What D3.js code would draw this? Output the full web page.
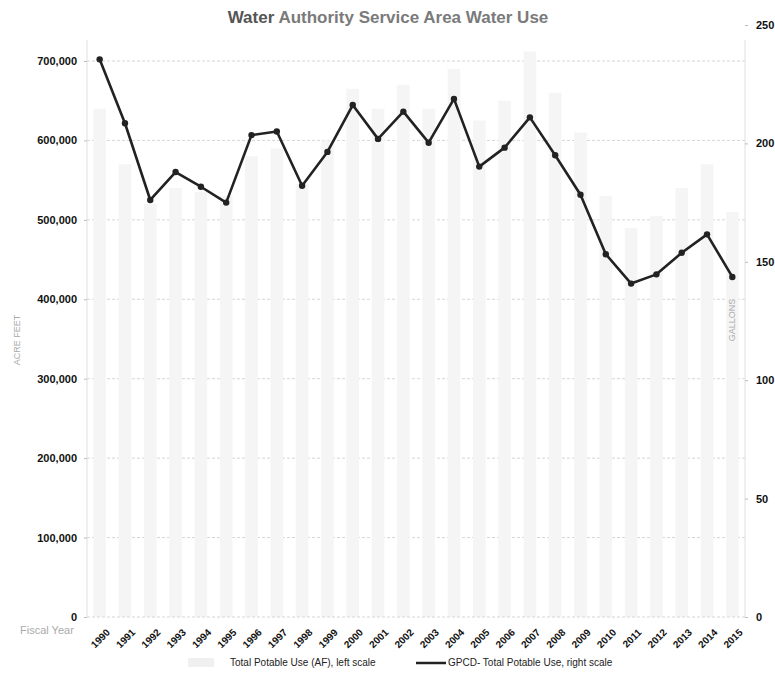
<!DOCTYPE html>
<html>
<head>
<meta charset="utf-8">
<script src="https://cdn.jsdelivr.net/npm/d3@7"></script>
<style>
body{margin:0;background:#fff;}
svg text{font-family:"Liberation Sans Narrow","Liberation Sans",sans-serif;}
</style>
</head>
<body>
<div id="chart"></div>
<script>
var years=["1990","1991","1992","1993","1994","1995","1996","1997","1998","1999","2000","2001","2002","2003","2004","2005","2006","2007","2008","2009","2010","2011","2012","2013","2014","2015"];
// total potable use, acre feet (bars, left scale)
var totalAF=[640000,570000,520000,540000,535000,530000,580000,590000,545000,600000,665000,640000,670000,640000,690000,625000,650000,712000,660000,610000,530000,490000,505000,540000,570000,510000];
// gallons per capita per day (line, right scale)
var gpcd=[235.5,208.5,176.1,187.9,181.7,175,203.5,205,182.1,196.4,216.2,201.9,213.4,200.3,218.8,190.2,198.2,211,195,178.3,153.2,140.8,144.7,153.8,161.6,143.6];
var leftTicks=[0,100000,200000,300000,400000,500000,600000,700000];
var rightTicks=[0,50,100,150,200,250];

var ww=775,hh=675;
var x0=87,x1=745,yb=617;
var svg=d3.select("#chart").append("svg").attr("width",ww).attr("height",hh);

var x=d3.scaleBand().domain(years).range([x0,x1]).paddingInner(0.5).paddingOuter(0.25);
var yL=d3.scaleLinear().domain([0,700000]).range([yb,61]);
var yR=d3.scaleLinear().domain([0,250]).range([yb,25]);

// gridlines
svg.append("g").selectAll("line").data(leftTicks.slice(1)).enter().append("line")
   .attr("x1",x0).attr("x2",x1)
   .attr("y1",function(d){return yL(d);}).attr("y2",function(d){return yL(d);})
   .attr("stroke","#d6d6d6").attr("stroke-dasharray","3,2").attr("stroke-width",1);

// bars
svg.append("g").selectAll("rect").data(totalAF).enter().append("rect")
   .attr("x",function(d,i){return x(years[i]);})
   .attr("width",x.bandwidth())
   .attr("y",function(d){return yL(d);})
   .attr("height",function(d){return yb-yL(d);})
   .attr("fill","#f5f5f5");

// axis lines
svg.append("line").attr("x1",x0).attr("x2",x0).attr("y1",40).attr("y2",yb).attr("stroke","#e0e0e0");
svg.append("line").attr("x1",x1).attr("x2",x1).attr("y1",40).attr("y2",yb).attr("stroke","#e0e0e0");
svg.append("line").attr("x1",x0).attr("x2",x1).attr("y1",yb).attr("y2",yb).attr("stroke","#d6d6d6").attr("stroke-dasharray","3,2");

// left axis
var fmt=d3.format(",");
var gl=svg.append("g").attr("transform","translate("+x0+",0)")
   .call(d3.axisLeft(yL).tickValues(leftTicks).tickFormat(function(d){return fmt(d);}).tickSize(3).tickPadding(7));
gl.select(".domain").remove();
gl.selectAll(".tick line").attr("stroke","#bbb");
gl.selectAll("text").attr("fill","#111").attr("font-size","11px").attr("font-weight","bold");

// right axis
var gr=svg.append("g").attr("transform","translate("+x1+",0)")
   .call(d3.axisRight(yR).tickValues(rightTicks).tickSize(3).tickPadding(8));
gr.select(".domain").remove();
gr.selectAll(".tick line").attr("stroke","#bbb");
gr.selectAll("text").attr("fill","#111").attr("font-size","11px").attr("font-weight","bold");

// x axis labels
var gx=svg.append("g").attr("transform","translate(0,"+yb+")")
   .call(d3.axisBottom(x).tickSize(0).tickPadding(0));
gx.select(".domain").remove();
gx.selectAll("text")
   .attr("text-anchor","end")
   .attr("font-size","10px").attr("font-weight","bold").attr("fill","#111")
   .attr("transform","translate(6,11) rotate(-45)");

svg.append("text").attr("x",20).attr("y",634).attr("font-size","11px").attr("fill","#aaa").text("Fiscal Year");

// axis titles
svg.append("text").attr("transform","translate(20,340) rotate(-90)").attr("text-anchor","middle")
   .attr("font-size","9px").attr("fill","#aaa").text("ACRE FEET");
svg.append("text").attr("transform","translate(735,320) rotate(-90)").attr("text-anchor","middle")
   .attr("font-size","9px").attr("fill","#aaa").text("GALLONS");

// gpcd line
var line=d3.line().x(function(d,i){return x(years[i])+x.bandwidth()/2;}).y(function(d){return yR(d);});
svg.append("path").datum(gpcd).attr("d",line).attr("fill","none").attr("stroke","#222").attr("stroke-width",2.6).attr("stroke-linejoin","round");
svg.append("g").selectAll("circle").data(gpcd).enter().append("circle")
   .attr("cx",function(d,i){return x(years[i])+x.bandwidth()/2;})
   .attr("cy",function(d){return yR(d);})
   .attr("r",3.2).attr("fill","#222");

// title
var t=svg.append("text").attr("x",388).attr("y",23).attr("text-anchor","middle")
   .attr("font-size","17px").attr("font-weight","bold").attr("fill","#7a7a7a");
t.append("tspan").attr("fill","#555").text("Water");
t.append("tspan").text(" Authority Service Area Water Use");

// legend
var lg=svg.append("g").attr("transform","translate(0,663)");
lg.append("rect").attr("x",188).attr("y",-5).attr("width",26).attr("height",9).attr("fill","#f0f0f0");
lg.append("text").attr("x",230).attr("y",3).attr("font-size","10px").attr("fill","#222").text("Total Potable Use (AF), left scale");
lg.append("line").attr("x1",416).attr("x2",446).attr("y1",0).attr("y2",0).attr("stroke","#222").attr("stroke-width",2.5);
lg.append("text").attr("x",448).attr("y",3).attr("font-size","10px").attr("fill","#222").text("GPCD- Total Potable Use, right scale");
</script>
</body>
</html>
